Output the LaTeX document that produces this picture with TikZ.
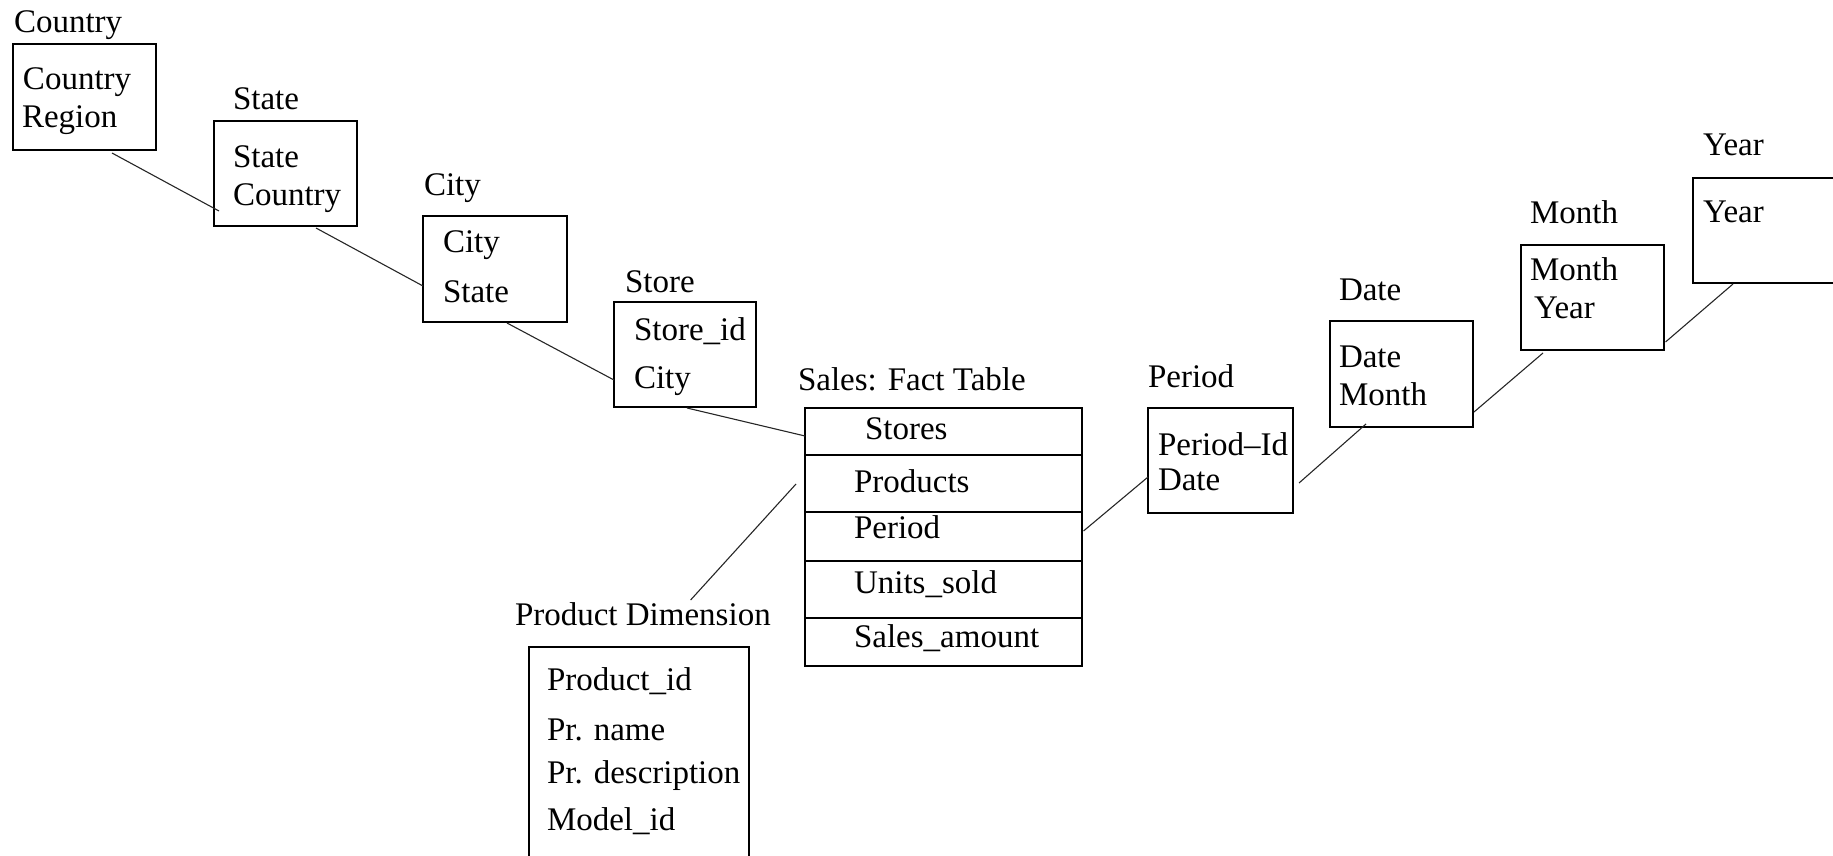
\documentclass[tikz,border=0pt]{standalone}
\usepackage{fontspec}
\setmainfont{Liberation Serif}
\usetikzlibrary{calc}

\tikzset{
  tbl/.style={draw, line width=1.8pt, inner sep=0pt, outer sep=0pt},
  txt/.style={anchor=base west, inner sep=0pt, outer sep=0pt,
              font=\fontsize{33}{39}\selectfont},
  link/.style={line width=1.1pt, black!85},
  rule/.style={line width=1.8pt}
}

\begin{document}
\begin{tikzpicture}[x=1pt, y=-1pt]
  \useasboundingbox (0,0) rectangle (1833,856);
  \clip (0,0) rectangle (1833,856);

  % ---- location hierarchy ----
  \node[tbl, minimum width=143pt, minimum height=106pt] (country) at (84.5,97) {};
  \node[txt] (tcountry) at (14,33) {Country};
  \node[txt] (country1) at (23,90) {Country};
  \node[txt] (country2) at (22,128) {Region};

  \node[tbl, minimum width=143pt, minimum height=105pt] (state) at (285.5,173.5) {};
  \node[txt] (tstate) at (233,110) {State};
  \node[txt] (state1) at (233,167) {State};
  \node[txt] (state2) at (233,205) {Country};

  \node[tbl, minimum width=144pt, minimum height=106pt] (city) at (495,269) {};
  \node[txt] (tcity) at (424,195) {City};
  \node[txt] (city1) at (443,252) {City};
  \node[txt] (city2) at (443,302) {State};

  \node[tbl, minimum width=142pt, minimum height=105pt] (store) at (685,354.5) {};
  \node[txt] (tstore) at (625,292) {Store};
  \node[txt] (store1) at (634,340) {Store\_id};
  \node[txt] (store2) at (634,388) {City};

  % ---- fact table ----
  \node[tbl, minimum width=277pt, minimum height=258pt] (fact) at (943.5,537) {};
  \node[txt] (tfact) at (798,390) {Sales: Fact Table};
  \foreach \dy in {47,104,153,210}
    \draw[rule] ($(fact.north west)+(0,\dy)$) -- ($(fact.north east)+(0,\dy)$);
  \node[txt] (fact1) at (865,439) {Stores};
  \node[txt] (fact2) at (854,492) {Products};
  \node[txt] (fact3) at (854,538) {Period};
  \node[txt] (fact4) at (854,593) {Units\_sold};
  \node[txt] (fact5) at (854,647) {Sales\_amount};

  % ---- product dimension ----
  \node[tbl, minimum width=220pt, minimum height=253pt] (product) at (639,773.5) {};
  \node[txt] (tproduct) at (515,625) {Product Dimension};
  \node[txt] (product1) at (547,690) {Product\_id};
  \node[txt] (product2) at (547,740) {Pr. name};
  \node[txt] (product3) at (547,783) {Pr. description};
  \node[txt] (product4) at (547,830) {Model\_id};

  % ---- time hierarchy ----
  \node[tbl, minimum width=145pt, minimum height=105pt] (period) at (1220.5,460.5) {};
  \node[txt] (tperiod) at (1148,387) {Period};
  \node[txt] (period1) at (1158,455) {Period--Id};
  \node[txt] (period2) at (1158,490) {Date};

  \node[tbl, minimum width=143pt, minimum height=106pt] (date) at (1401.5,374) {};
  \node[txt] (tdate) at (1339,300) {Date};
  \node[txt] (date1) at (1339,367) {Date};
  \node[txt] (date2) at (1339,405) {Month};

  \node[tbl, minimum width=143pt, minimum height=105pt] (month) at (1592.5,297.5) {};
  \node[txt] (tmonth) at (1530,223) {Month};
  \node[txt] (month1) at (1530,280) {Month};
  \node[txt] (month2) at (1534,318) {Year};

  \node[tbl, minimum width=157pt, minimum height=105pt] (year) at (1771.5,230.5) {};
  \node[txt] (tyear) at (1703,155) {Year};
  \node[txt] (year1) at (1703,222) {Year};

  % ---- connectors ----
  \draw[link] ($(country.south west)+(99,3)$) -- ($(state.north west)+(5,90)$);
  \draw[link] ($(state.south west)+(102,2)$) -- ($(city.north west)+(0,70)$);
  \draw[link] ($(city.south west)+(84,1)$) -- ($(store.north west)+(0,78)$);
  \draw[link] ($(store.south west)+(73,1)$) -- ($(fact.north west)+(0,28)$);
  \draw[link] ($(fact.north west)+(-9,76)$) -- ($(product.north west)+(161.6,-47)$);
  \draw[link] ($(fact.north east)+(1.5,123)$) -- ($(period.north west)+(0,69)$);
  \draw[link] ($(period.north east)+(6,75)$) -- ($(date.south west)+(36,-3)$);
  \draw[link] ($(date.north east)+(1,91)$) -- ($(month.south west)+(22,3)$);
  \draw[link] ($(month.north east)+(1.5,97)$) -- ($(year.south west)+(40,1)$);
\end{tikzpicture}
\end{document}
